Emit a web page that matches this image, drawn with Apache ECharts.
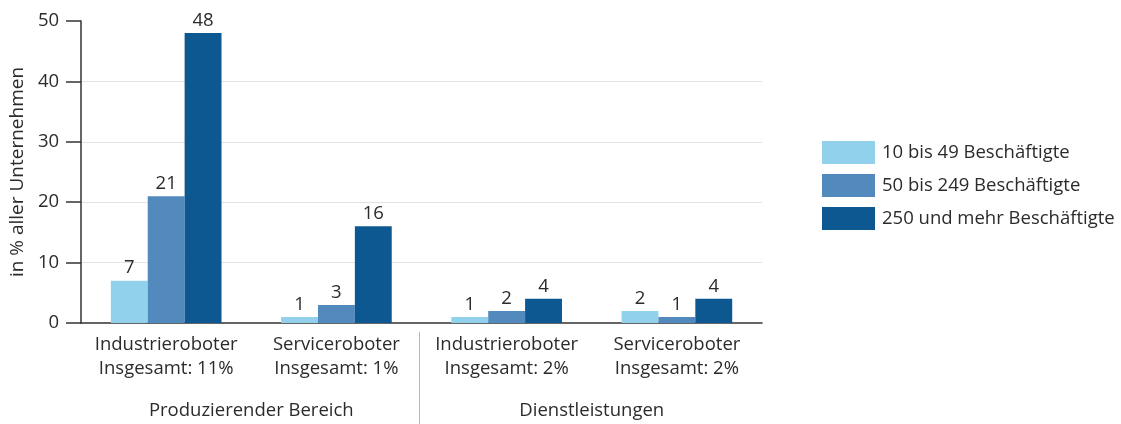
<!DOCTYPE html>
<html lang="de">
<head>
<meta charset="UTF-8">
<title>Roboter in Unternehmen</title>
<script src="https://cdn.jsdelivr.net/npm/echarts@6/dist/echarts.min.js"></script>
<style>
  html, body { margin: 0; padding: 0; background: #fff; }
  #chart { width: 1121px; height: 424px; }
</style>
</head>
<body>
<div id="chart"></div>
<script>
// data
const categories = [
    'Industrieroboter\nInsgesamt: 11%',
    'Serviceroboter\nInsgesamt: 1%',
    'Industrieroboter\nInsgesamt: 2%',
    'Serviceroboter\nInsgesamt: 2%'
];
const groups = ['Produzierender Bereich', 'Dienstleistungen'];
const seriesNames = ['10 bis 49 Beschäftigte', '50 bis 249 Beschäftigte', '250 und mehr Beschäftigte'];
const small = [7, 1, 1, 2];
const medium = [21, 3, 2, 1];
const large = [48, 16, 4, 4];
const yTicks = [0, 10, 20, 30, 40, 50];

const colors = ['#92d1eb', '#528abd', '#0e5891'];
const font = '"Open Sans", Lato, sans-serif';
const textColor = '#2b2b2b';
const fs = 18.5;

const chart = echarts.init(document.getElementById('chart'));

function bar(name, data, color) {
    return {
        name: name,
        type: 'bar',
        data: data,
        barGap: '0%',
        barCategoryGap: '35%',
        itemStyle: { color: color },
        label: {
            show: true,
            position: 'top',
            distance: 3,
            color: textColor,
            fontSize: fs,
            fontFamily: font
        }
    };
}

const option = {
    animation: false,
    textStyle: { fontFamily: font },
    grid: { left: 79, right: 359, top: 21, bottom: 101 },
    legend: {
        orient: 'vertical',
        left: 817,
        top: 136,
        itemWidth: 53,
        itemHeight: 23,
        itemGap: 10,
        icon: 'rect',
        textStyle: { color: textColor, fontSize: fs, fontFamily: font, padding: [0, 0, 0, 2] },
        data: seriesNames
    },
    xAxis: [
        {
            type: 'category',
            data: categories,
            axisLine: { lineStyle: { color: '#333', width: 1.5 } },
            axisTick: { show: false },
            axisLabel: {
                interval: 0,
                color: textColor,
                fontSize: fs,
                lineHeight: 24,
                margin: 10,
                fontFamily: font
            }
        },
        {
            type: 'category',
            data: groups,
            position: 'bottom',
            axisLine: { show: false },
            axisTick: { show: false },
            axisLabel: {
                interval: 0,
                color: textColor,
                fontSize: fs,
                margin: 78,
                fontFamily: font
            }
        }
    ],
    yAxis: {
        type: 'value',
        min: yTicks[0],
        max: yTicks[yTicks.length - 1],
        interval: yTicks[1] - yTicks[0],
        name: 'in % aller Unternehmen',
        nameLocation: 'middle',
        nameGap: 50,
        nameTextStyle: { color: textColor, fontSize: 19, fontFamily: font },
        axisLine: { show: true, lineStyle: { color: '#333', width: 1.5 } },
        axisTick: { show: true, length: 15, lineStyle: { color: '#333', width: 1.5 } },
        axisLabel: { color: textColor, fontSize: fs, margin: 22, fontFamily: font },
        splitLine: { show: true, showMaxLine: false, showMinLine: false, lineStyle: { color: '#e3e3e3' } }
    },
    series: [
        bar(seriesNames[0], small, colors[0]),
        bar(seriesNames[1], medium, colors[1]),
        bar(seriesNames[2], large, colors[2])
    ]
};
chart.setOption(option);

// separator between the two groups, placed through the axis scale
const leftEdge = chart.convertToPixel({ xAxisIndex: 0 }, 1);
const rightEdge = chart.convertToPixel({ xAxisIndex: 0 }, 2);
const sepX = Math.round((leftEdge + rightEdge) / 2) - 2.5;
const axisY = chart.convertToPixel({ yAxisIndex: 0 }, 0);
chart.setOption({
    graphic: [{
        type: 'line',
        shape: { x1: sepX, y1: axisY + 9, x2: sepX, y2: 424 },
        style: { stroke: '#b5b5b5', lineWidth: 1 }
    }]
});

window.addEventListener('resize', () => chart.resize());
</script>
</body>
</html>
